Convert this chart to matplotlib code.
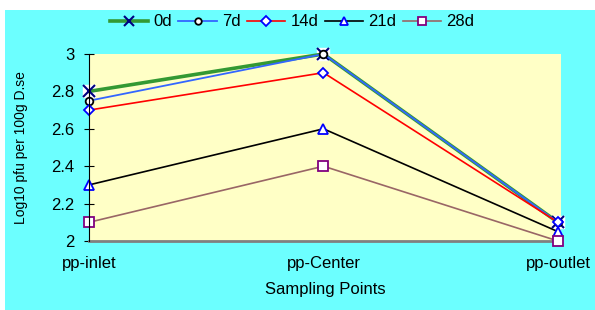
import matplotlib
matplotlib.use('Agg')
import matplotlib.pyplot as plt
from matplotlib.patches import Rectangle

plt.rcParams['font.family'] = ['Liberation Sans', 'DejaVu Sans']

sites = ['pp-inlet', 'pp-Center', 'pp-outlet']
days = ['0d', '7d', '14d', '21d', '28d']
d0 = [2.8, 3.0, 2.1]
d7 = [2.75, 3.0, 2.1]
d14 = [2.7, 2.9, 2.1]
d21 = [2.3, 2.6, 2.05]
d28 = [2.1, 2.4, 2.0]
yticks = [2, 2.2, 2.4, 2.6, 2.8, 3]

fig = plt.figure(figsize=(5.95, 3.1), dpi=100)
fig.patch.set_facecolor('white')
fig.patches.append(Rectangle((5 / 595, 0), 1, 300 / 310, transform=fig.transFigure,
                             facecolor='#6CFFFF', edgecolor='none', zorder=-10))

ax = fig.add_axes([89 / 595, 69 / 310, 472 / 595, 187 / 310])
ax.set_facecolor('#FFFFC6')
x = list(range(len(sites)))

# white boxes behind the x markers
ax.plot(x, d0, ls='none', marker='s', ms=9, mfc='white', mec='white',
        zorder=3, clip_on=False)
ax.plot(x, d0, color='#339933', lw=2.6, marker='x', ms=8, mec='#000080',
        mew=1.5, label=days[0], zorder=4, clip_on=False)
ax.plot(x, d7, color='#3366FF', lw=1.3, marker='o', ms=5.5, mfc='white',
        mec='black', mew=1.3, label=days[1], zorder=5, clip_on=False)
ax.plot(x, d14, color='#FF0000', lw=1.2, marker='D', ms=5.5, mfc='white',
        mec='#0000FF', mew=1.3, label=days[2], zorder=5, clip_on=False)
ax.plot(x, d21, color='black', lw=1.2, marker='^', ms=7, mfc='white',
        mec='#0000FF', mew=1.3, label=days[3], zorder=5, clip_on=False)
ax.plot(x, d28, color='#996666', lw=1.2, marker='s', ms=6.5, mfc='white',
        mec='#800080', mew=1.3, label=days[4], zorder=5, clip_on=False)

ax.set_xlim(0, 2.013)
ax.set_ylim(2, 3)
ax.set_yticks(yticks)
ax.set_yticklabels(['2', '2.2', '2.4', '2.6', '2.8', '3'], fontsize=12)
ax.set_xticks(x)
ax.set_xticklabels(sites, fontsize=12)
ax.tick_params(axis='x', length=0, pad=11)
ax.tick_params(axis='y', direction='inout', length=7, pad=7)
for s in ['top', 'right']:
    ax.spines[s].set_visible(False)
ax.spines['bottom'].set_color('#808080')
ax.spines['bottom'].set_linewidth(2)
ax.spines['left'].set_color('black')
ax.spines['left'].set_zorder(6)
ax.set_xlabel('Sampling Points', fontsize=12, labelpad=8)
ax.set_ylabel('Log10 pfu per 100g D.se', fontsize=10)
ax.yaxis.set_label_coords(-61 / 472, 0.5)

fig.legend(loc='center', bbox_to_anchor=(292 / 595, 1 - 22 / 310), ncol=5,
           frameon=False, fontsize=12, handlelength=2.3, columnspacing=0.4,
           handletextpad=0.3, markerscale=0.85)

fig.savefig('out.png', dpi=100)
